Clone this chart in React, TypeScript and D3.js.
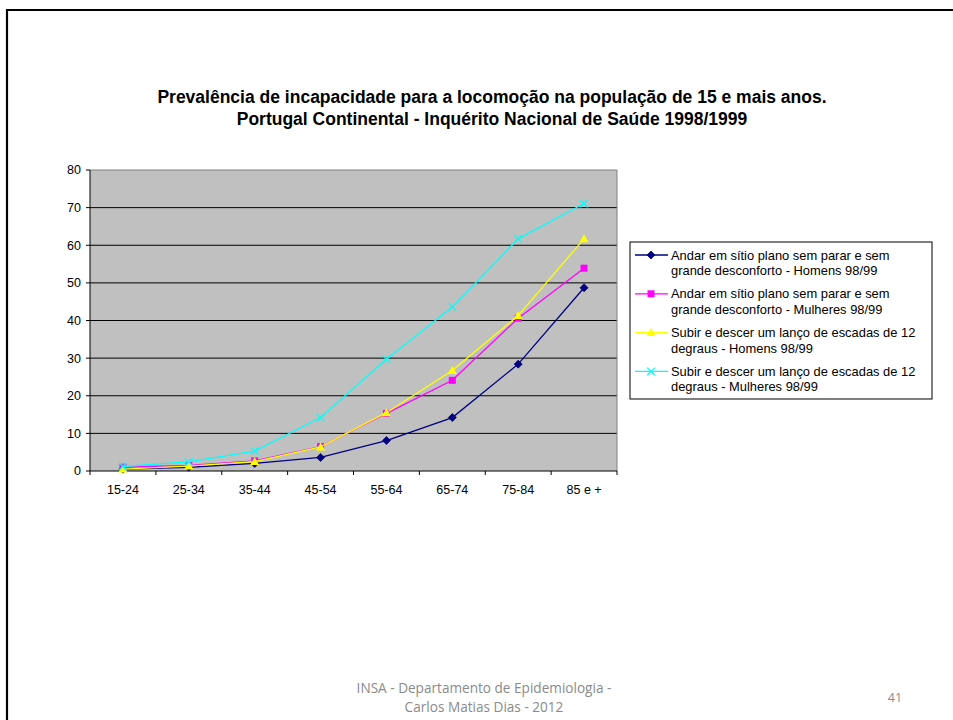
import React from "react";
import * as d3 from "d3";

const categories = ["15-24", "25-34", "35-44", "45-54", "55-64", "65-74", "75-84", "85 e +"];
const homensPlano = [0.5, 1.0, 2.0, 3.6, 8.1, 14.2, 28.4, 48.7];
const mulheresPlano = [1.0, 1.5, 2.7, 6.5, 15.3, 24.1, 40.6, 53.9];
const homensEscadas = [0.5, 1.3, 2.5, 6.4, 15.5, 26.7, 41.3, 61.7];
const mulheresEscadas = [1.2, 2.4, 5.3, 14.2, 29.7, 43.6, 61.7, 71.1];
const yTicks = [0, 10, 20, 30, 40, 50, 60, 70, 80];
const legendLabels = [
  ["Andar em sítio plano sem parar e sem", "grande desconforto - Homens 98/99"],
  ["Andar em sítio plano sem parar e sem", "grande desconforto - Mulheres 98/99"],
  ["Subir e descer um lanço de escadas de 12", "degraus - Homens 98/99"],
  ["Subir e descer um lanço de escadas de 12", "degraus - Mulheres 98/99"],
];
const titleLines = [
  "Prevalência de incapacidade para a locomoção na população de 15 e mais anos.",
  "Portugal Continental - Inquérito Nacional de Saúde 1998/1999",
];

const seriesList = [
  { values: homensPlano, color: "#000080", marker: "diamond" },
  { values: mulheresPlano, color: "#FF00FF", marker: "square" },
  { values: homensEscadas, color: "#FFFF00", marker: "triangle" },
  { values: mulheresEscadas, color: "#00FFFF", marker: "x" },
];

const W = 953, H = 720;
const plot = { left: 90, right: 617, top: 170, bottom: 471 };

function Marker({ type, x, y, color }: { type: string; x: number; y: number; color: string }) {
  if (type === "diamond") {
    const s = 4;
    return <path d={`M${x},${y - s}L${x + s},${y}L${x},${y + s}L${x - s},${y}Z`} fill={color} stroke={color} strokeWidth={0.8} />;
  }
  if (type === "square") {
    return <rect x={x - 3.5} y={y - 3.5} width={7} height={7} fill={color} />;
  }
  if (type === "triangle") {
    return <path d={`M${x},${y - 4.5}L${x + 4.5},${y + 3.5}L${x - 4.5},${y + 3.5}Z`} fill={color} />;
  }
  const s = 3.8;
  return (
    <path d={`M${x - s},${y - s}L${x + s},${y + s}M${x - s},${y + s}L${x + s},${y - s}`} stroke={color} strokeWidth={1.3} fill="none" />
  );
}

export default function App() {
  const x = d3.scaleBand<string>().domain(categories).range([plot.left, plot.right]).paddingInner(0).paddingOuter(0);
  const y = d3.scaleLinear().domain([0, 80]).range([plot.bottom, plot.top]);
  const line = d3
    .line<number>()
    .x((_, i) => (x(categories[i]) as number) + x.bandwidth() / 2)
    .y((d) => y(d));
  const font = "'Liberation Sans', Arial, sans-serif";
  const boundaries = d3.range(categories.length + 1).map((i) => plot.left + i * x.bandwidth());

  return (
    <svg width={W} height={H} style={{ position: "absolute", left: 0, top: 0, background: "#fff" }} fontFamily={font}>
      <rect x={0} y={0} width={W} height={H} fill="#fff" />
      {/* slide border */}
      <path d={`M7,${H}L7,10L${W},10`} fill="none" stroke="#000" strokeWidth={2.2} />

      {/* title */}
      {titleLines.map((t, i) => (
        <text key={i} x={492} y={103 + i * 22} textAnchor="middle" fontWeight="bold" fontSize={17.5} fill="#000">
          {t}
        </text>
      ))}

      {/* plot area */}
      <rect x={plot.left} y={plot.top} width={plot.right - plot.left} height={plot.bottom - plot.top} fill="#C0C0C0" />
      {yTicks.slice(1, -1).map((t) => (
        <line key={t} x1={plot.left} x2={plot.right} y1={y(t)} y2={y(t)} stroke="#000" strokeWidth={1} />
      ))}
      <path d={`M${plot.left},${plot.top}L${plot.right},${plot.top}L${plot.right},${plot.bottom}`} fill="none" stroke="#808080" strokeWidth={1} />
      <line x1={plot.left} x2={plot.left} y1={plot.top} y2={plot.bottom} stroke="#000" />
      <line x1={plot.left} x2={plot.right} y1={plot.bottom} y2={plot.bottom} stroke="#000" />
      {yTicks.map((t) => (
        <g key={t}>
          <line x1={plot.left - 4} x2={plot.left} y1={y(t)} y2={y(t)} stroke="#000" />
          <text x={plot.left - 9} y={y(t)} dy="0.35em" textAnchor="end" fontSize={12.5} fill="#000">
            {t}
          </text>
        </g>
      ))}
      {boundaries.map((b, i) => (
        <line key={i} x1={b} x2={b} y1={plot.bottom} y2={plot.bottom + 4} stroke="#000" />
      ))}
      {categories.map((c) => (
        <text key={c} x={(x(c) as number) + x.bandwidth() / 2} y={494} textAnchor="middle" fontSize={12.5} fill="#000">
          {c}
        </text>
      ))}

      {/* series */}
      {seriesList.map((s, si) => (
        <g key={si}>
          <path d={line(s.values) || ""} fill="none" stroke={s.color} strokeWidth={1.3} />
          {s.values.map((v, i) => (
            <Marker key={i} type={s.marker} x={(x(categories[i]) as number) + x.bandwidth() / 2} y={y(v)} color={s.color} />
          ))}
        </g>
      ))}

      {/* legend */}
      <rect x={630} y={242} width={302} height={157} fill="#fff" stroke="#000" strokeWidth={1} />
      {seriesList.map((s, i) => {
        const ly = 255 + i * 38.8;
        return (
          <g key={i}>
            <line x1={635} x2={668} y1={ly} y2={ly} stroke={s.color} strokeWidth={1.3} />
            <Marker type={s.marker} x={651} y={ly} color={s.color} />
            {legendLabels[i].map((t, j) => (
              <text key={j} x={671} y={ly + j * 15.5} dy="0.35em" fontSize={12.9} fill="#000">
                {t}
              </text>
            ))}
          </g>
        );
      })}

      {/* footer */}
      <text x={484} y={693} textAnchor="middle" fontSize={13.6} fill="#8a8a8a" fontFamily="'Open Sans', sans-serif">
        INSA - Departamento de Epidemiologia -
      </text>
      <text x={484} y={712} textAnchor="middle" fontSize={13.6} fill="#8a8a8a" fontFamily="'Open Sans', sans-serif">
        Carlos Matias Dias - 2012
      </text>
      <text x={895} y={702} textAnchor="middle" fontSize={12.5} fill="#8a8a8a" fontFamily="'Open Sans', sans-serif">
        41
      </text>
    </svg>
  );
}
